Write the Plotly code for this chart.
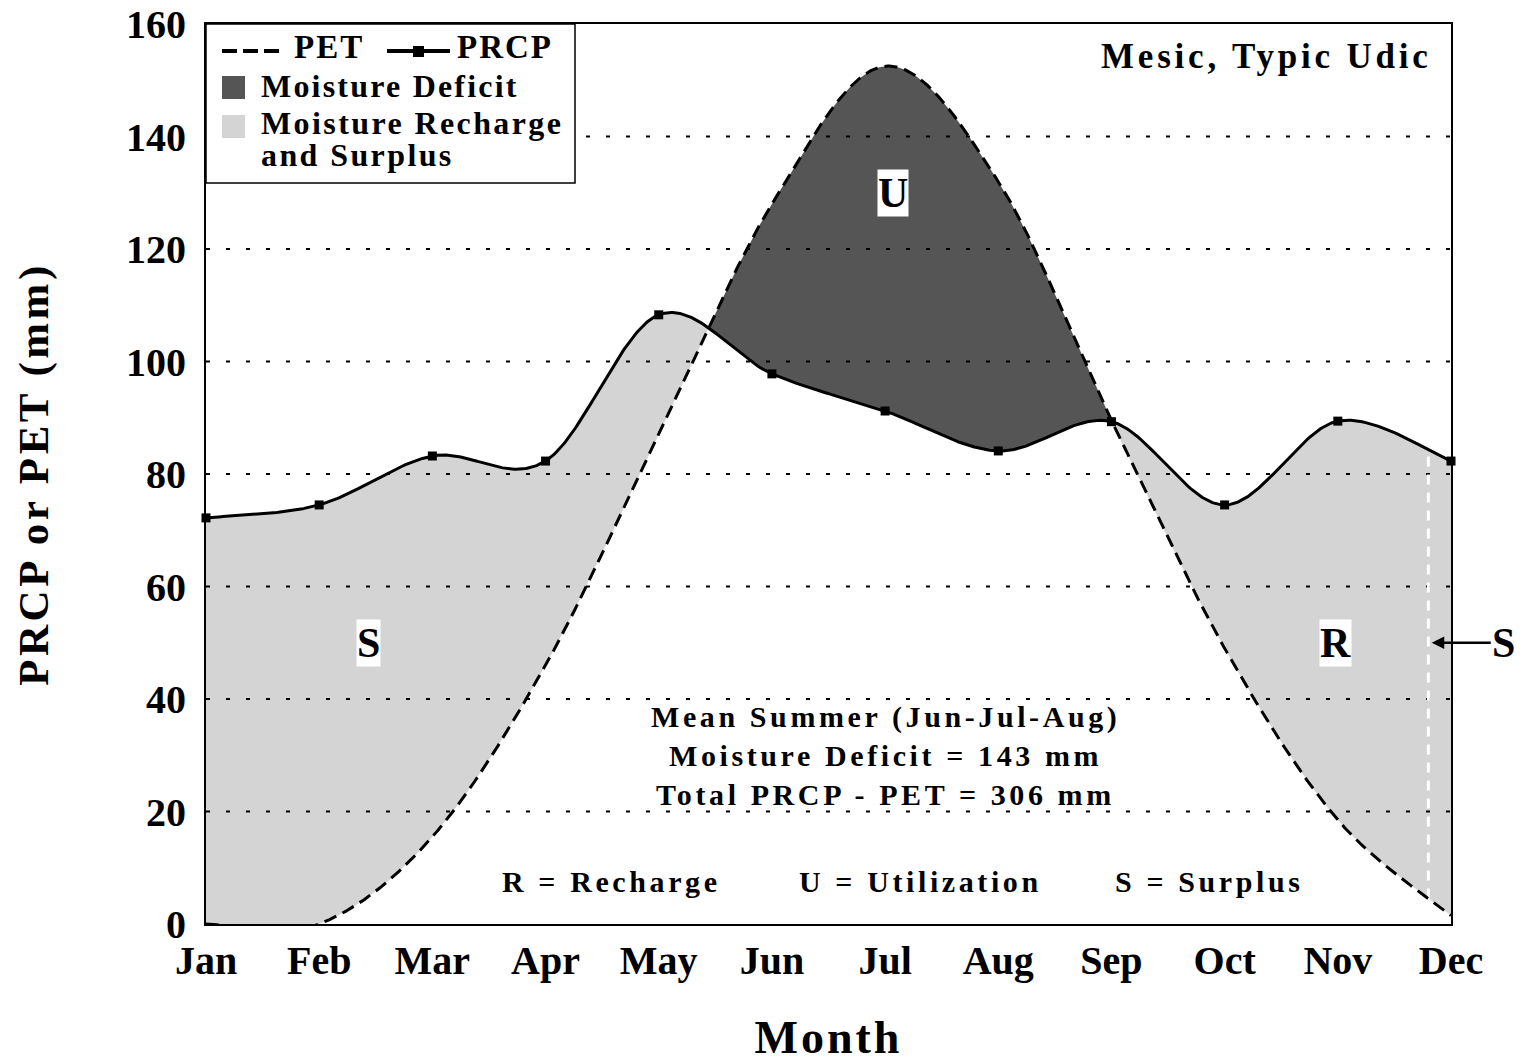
import numpy as np
import plotly.graph_objects as go

# Monthly water balance (mm)
MONTHS = ["Jan", "Feb", "Mar", "Apr", "May", "Jun", "Jul", "Aug", "Sep", "Oct", "Nov", "Dec"]
PRCP = [72.2, 74.5, 83.2, 82.3, 108.3, 97.8, 91.2, 84.1, 89.3, 74.5, 89.4, 82.3]
PET = [0.0, 0.0, 15.5, 46.0, 87.0, 128.0, 152.5, 132.0, 89.5, 49.0, 18.5, 1.5]
Y_TICKS = [0, 20, 40, 60, 80, 100, 120, 140, 160]
SURPLUS_START = 10.8          # month position where recharge gives way to surplus

FONT = "Liberation Serif"
DARK = "#555555"
LIGHT = "#d4d4d4"

# figure geometry (pixels)
W, H = 1522, 1063
ML, MR, MT, MB = 206, 71, 24, 139
PW, PH = W - ML - MR, H - MT - MB


def px(x):
    return (x - ML) / PW


def py(y):
    return (H - MB - y) / PH


def spaced(text, sp):
    return f'<span style="letter-spacing:{sp}px">{text}</span>'


def smooth(values, steps=80):
    """Bezier smoothing through the points (control points at +/- 1/6 of the neighbour chord)."""
    p = np.column_stack([np.arange(len(values), dtype=float), np.asarray(values, dtype=float)])
    ext = np.vstack([p[0], p, p[-1]])
    t = np.linspace(0.0, 1.0, steps, endpoint=False)[:, None]
    segs = []
    for i in range(len(p) - 1):
        p0, p1, p2, p3 = ext[i], ext[i + 1], ext[i + 2], ext[i + 3]
        b1 = p1 + (p2 - p0) / 6.0
        b2 = p2 - (p3 - p1) / 6.0
        segs.append((1 - t) ** 3 * p1 + 3 * (1 - t) ** 2 * t * b1 + 3 * (1 - t) * t ** 2 * b2 + t ** 3 * p2)
    segs.append(p[-1][None, :])
    out = np.vstack(segs)
    return out[:, 0], out[:, 1]


sx, prcp_s = smooth(PRCP)
_, pet_s = smooth(PET)

fig = go.Figure()

# recharge / surplus (PRCP above PET)
lo = np.minimum(pet_s, prcp_s)
fig.add_trace(go.Scatter(
    x=np.concatenate([sx, sx[::-1]]), y=np.concatenate([prcp_s, lo[::-1]]),
    fill="toself", fillcolor=LIGHT, line=dict(width=0), mode="lines",
    hoverinfo="skip", showlegend=False))

# deficit (PET above PRCP)
hi = np.maximum(pet_s, prcp_s)
fig.add_trace(go.Scatter(
    x=np.concatenate([sx, sx[::-1]]), y=np.concatenate([hi, prcp_s[::-1]]),
    fill="toself", fillcolor=DARK, line=dict(width=0), mode="lines",
    hoverinfo="skip", showlegend=False))

# dotted horizontal grid drawn over the shading
gx, gy = [], []
for v in Y_TICKS[1:-1]:
    gx += [0, 11, None]
    gy += [v, v, None]
fig.add_trace(go.Scatter(x=gx, y=gy, mode="lines",
                         line=dict(color="black", width=2.2, dash="4px,16px"),
                         hoverinfo="skip", showlegend=False))

# boundary between recharge and surplus
xs = [SURPLUS_START, SURPLUS_START]
ys = [float(np.interp(SURPLUS_START, sx, pet_s)), float(np.interp(SURPLUS_START, sx, prcp_s))]
fig.add_trace(go.Scatter(x=xs, y=ys, mode="lines",
                         line=dict(color="white", width=3, dash="10px,8px"),
                         hoverinfo="skip", showlegend=False))

# PET (dashed) and PRCP (solid with markers)
fig.add_trace(go.Scatter(x=sx, y=pet_s, mode="lines", name="PET",
                         line=dict(color="black", width=3, dash="13px,7px"),
                         showlegend=False))
fig.add_trace(go.Scatter(x=sx, y=prcp_s, mode="lines", name="PRCP",
                         line=dict(color="black", width=3), showlegend=False))
fig.add_trace(go.Scatter(x=list(range(len(PRCP))), y=PRCP, mode="markers",
                         marker=dict(symbol="square", size=9, color="black"),
                         cliponaxis=False, showlegend=False, name="PRCP"))

# legend panel
shapes = [
    dict(type="rect", xref="paper", yref="paper", x0=px(206), x1=px(575), y0=py(24), y1=py(183),
         line=dict(color="black", width=1.5), fillcolor="white", layer="above"),
    dict(type="line", xref="paper", yref="paper", x0=px(222), x1=px(284), y0=py(51), y1=py(51),
         line=dict(color="black", width=4, dash="15px,6px"), layer="above"),
    dict(type="line", xref="paper", yref="paper", x0=px(387), x1=px(450), y0=py(51), y1=py(51),
         line=dict(color="black", width=4), layer="above"),
    dict(type="rect", xref="paper", yref="paper", x0=px(413), x1=px(424), y0=py(46), y1=py(57),
         line=dict(width=0), fillcolor="black", layer="above"),
    dict(type="rect", xref="paper", yref="paper", x0=px(222), x1=px(245), y0=py(76), y1=py(99),
         line=dict(width=0), fillcolor=DARK, layer="above"),
    dict(type="rect", xref="paper", yref="paper", x0=px(222), x1=px(245), y0=py(115), y1=py(138),
         line=dict(width=0), fillcolor=LIGHT, layer="above"),
]

bold = dict(family=FONT, color="black", weight="bold")
ann = []


def label(text, x, y, size, xref="paper", yref="paper", xanchor="left", **kw):
    ann.append(dict(text=text, x=x, y=y, xref=xref, yref=yref, xanchor=xanchor, yanchor="middle",
                    showarrow=False, font=dict(size=size, **bold), **kw))


label(spaced("PET", 2), px(292), py(47), 33)
label(spaced("PRCP", 2), px(455), py(47), 33)
label(spaced("Moisture Deficit", 2.2), px(259), py(86), 32)
label(spaced("Moisture Recharge", 2.4), px(259), py(123), 32)
label(spaced("and Surplus", 2.4), px(259), py(155), 32)

label(spaced("Mesic, Typic Udic", 3.8), px(1434), py(56), 35, xanchor="right")

# region letters
for t, x, y in [("U", 6.07, 130), ("S", 1.44, 50), ("R", 9.98, 50)]:
    label(t, x, y, 42, xref="x", yref="y", xanchor="center", bgcolor="white", borderpad=0)

# summary text
for t, y in [("Mean Summer (Jun-Jul-Aug)", 36.8),
             ("Moisture Deficit = 143 mm", 30.0),
             ("Total PRCP - PET = 306 mm", 23.1)]:
    label(spaced(t, 3.6), 6.0, y, 30, xref="x", yref="y", xanchor="center")

for t, x in [("R = Recharge", 2.6), ("U = Utilization", 5.22), ("S = Surplus", 8.01)]:
    label(spaced(t, 3.6), x, 7.5, 30, xref="x", yref="y")

# surplus pointer outside the plot
ann.append(dict(text="S", x=SURPLUS_START + 0.03, y=50, xref="x", yref="y", ax=72, ay=0,
                showarrow=True, arrowhead=2, arrowsize=1, arrowwidth=2.5, arrowcolor="black",
                font=dict(size=42, **bold), xanchor="center"))

fig.update_layout(
    width=W, height=H, margin=dict(l=ML, r=MR, t=MT, b=MB, autoexpand=False),
    paper_bgcolor="white", plot_bgcolor="white",
    shapes=shapes, annotations=ann, showlegend=False,
    xaxis=dict(range=[0, 11], tickvals=list(range(12)), ticktext=MONTHS,
               tickfont=dict(size=40, **bold), showgrid=False, zeroline=False,
               showline=True, mirror=True, linecolor="black", linewidth=2, ticks="",
               layer="above traces", automargin=False,
               title=dict(text=spaced("Month", 3), font=dict(size=46, **bold), standoff=49)),
    yaxis=dict(range=[0, 160], tickvals=Y_TICKS, ticktext=[str(v) for v in Y_TICKS],
               tickfont=dict(size=40, **bold), showgrid=False, zeroline=False,
               showline=True, mirror=True, linecolor="black", linewidth=2, ticks="",
               layer="above traces", ticklabelstandoff=10, automargin=False,
               title=dict(text=spaced("PRCP or PET (mm)", 3.5), font=dict(size=43, **bold), standoff=64)),
)

fig.write_html("out.html")
